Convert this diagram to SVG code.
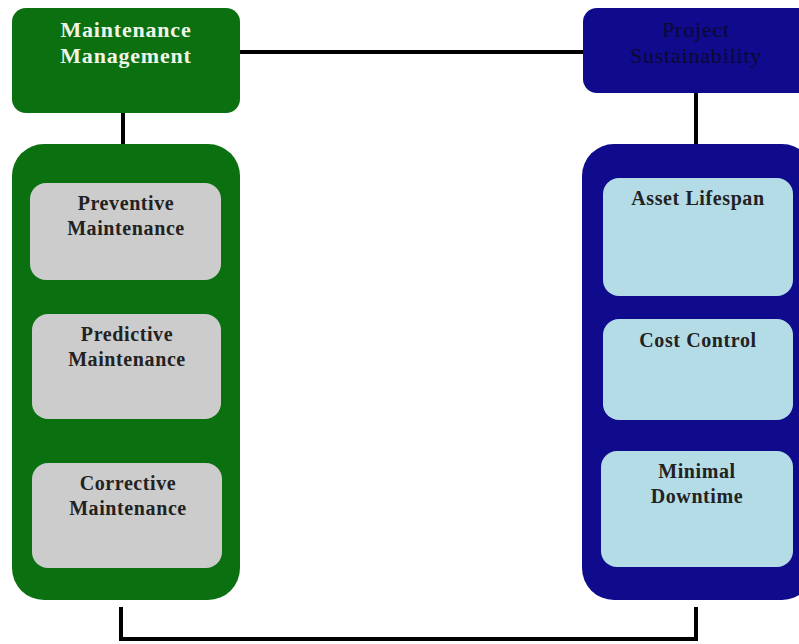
<svg xmlns="http://www.w3.org/2000/svg" width="799" height="644" viewBox="0 0 799 644">
<style>
.conn{fill:none;stroke:#000;stroke-width:4}
.green{fill:#0a7010}
.navy{fill:#100a8c}
.gray{fill:#cccccc}
.lblue{fill:#b4dce6}
.t{font-family:"Liberation Serif","Times New Roman",serif;text-anchor:middle}
.hdr{font-size:22px;font-weight:bold;fill:#f0f4e8;letter-spacing:0.8px}
.hdr2{font-size:22px;fill:#0a0a30;letter-spacing:0.8px}
.inner{font-size:20px;font-weight:bold;fill:#222;letter-spacing:0.6px}
</style>
<rect width="799" height="644" fill="#fff"/>
<g id="connectors">
<path class="conn" d="M240 52 H583"/>
<path class="conn" d="M123 113 V146"/>
<path class="conn" d="M696 93 V146"/>
<path class="conn" d="M121 607 V639 H696 V607"/>
</g>
<g id="maintenance-management">
<rect class="green" x="12" y="8" width="228" height="105" rx="14"/>
<text class="t hdr" x="126" y="37">Maintenance</text>
<text class="t hdr" x="126" y="63">Management</text>
</g>
<g id="project-sustainability">
<rect class="navy" x="583" y="8" width="230" height="85" rx="14"/>
<text class="t hdr2" x="696" y="37">Project</text>
<text class="t hdr2" x="696" y="63">Sustainability</text>
</g>
<g id="maintenance-container">
<rect class="green" x="12" y="144" width="228" height="456" rx="32"/>
</g>
<g id="preventive">
<rect class="gray" x="30" y="183" width="191" height="97" rx="16"/>
<text class="t inner" x="126" y="210">Preventive</text>
<text class="t inner" x="126" y="235">Maintenance</text>
</g>
<g id="predictive">
<rect class="gray" x="32" y="314" width="189" height="105" rx="16"/>
<text class="t inner" x="127" y="341">Predictive</text>
<text class="t inner" x="127" y="366">Maintenance</text>
</g>
<g id="corrective">
<rect class="gray" x="32" y="463" width="190" height="105" rx="16"/>
<text class="t inner" x="128" y="490">Corrective</text>
<text class="t inner" x="128" y="515">Maintenance</text>
</g>
<g id="sustainability-container">
<rect class="navy" x="582" y="144" width="232" height="456" rx="32"/>
</g>
<g id="asset-lifespan">
<rect class="lblue" x="603" y="178" width="190" height="118" rx="16"/>
<text class="t inner" x="698" y="205">Asset Lifespan</text>
</g>
<g id="cost-control">
<rect class="lblue" x="603" y="319" width="190" height="101" rx="16"/>
<text class="t inner" x="698" y="347">Cost Control</text>
</g>
<g id="minimal-downtime">
<rect class="lblue" x="601" y="451" width="192" height="116" rx="16"/>
<text class="t inner" x="697" y="478">Minimal</text>
<text class="t inner" x="697" y="503">Downtime</text>
</g>
</svg>
